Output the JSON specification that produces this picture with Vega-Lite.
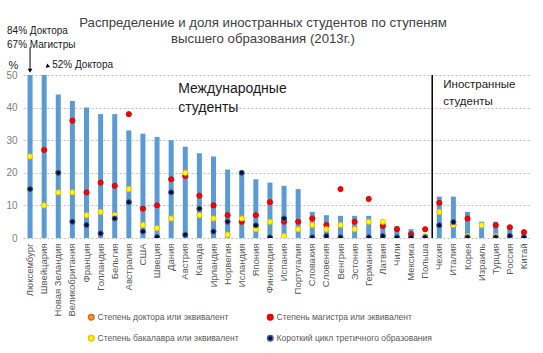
{
  "$schema": "https://vega.github.io/schema/vega-lite/v6.json",
  "width": 508,
  "height": 163,
  "autosize": {"type": "none"},
  "padding": {"left": 23, "top": 75, "right": 12, "bottom": 115},
  "background": "white",
  "config": {"view": {"stroke": null}, "font": "Liberation Sans", "axisY": {"tickCount": 10}},
  "title": {
    "text": ["Распределение и доля иностранных студентов по ступеням", "высшего образования (2013г.)"],
    "fontSize": 13.2,
    "fontWeight": "normal",
    "font": "Liberation Sans",
    "color": "#404040",
    "anchor": "middle",
    "frame": "group",
    "lineHeight": 16,
    "offset": -20,
    "dx": -14
  },
  "data": {
    "values": [
      {"c": "Люксембург", "d": 84, "m": 67, "b": 25, "s": 15},
      {"c": "Швейцария", "d": 52, "m": 27, "b": 10, "s": null},
      {"c": "Новая Зеландия", "d": 44, "m": null, "b": 14, "s": 20},
      {"c": "Великобритания", "d": 42, "m": 36, "b": 14, "s": 5},
      {"c": "Франция", "d": 40, "m": 14, "b": 7, "s": 4},
      {"c": "Голландия", "d": 38, "m": 17, "b": 8, "s": 1.4},
      {"c": "Бельгия", "d": 38, "m": 16, "b": 7, "s": 6},
      {"c": "Австралия", "d": 33, "m": 38, "b": 15, "s": 11},
      {"c": "США", "d": 32, "m": 9, "b": 4, "s": 2},
      {"c": "Швеция", "d": 31, "m": 10, "b": 3, "s": 0.3},
      {"c": "Дания", "d": 30, "m": 18, "b": 6, "s": 14},
      {"c": "Австрия", "d": 28, "m": 19, "b": 20, "s": 1},
      {"c": "Канада", "d": 26, "m": 13, "b": 7, "s": 9},
      {"c": "Ирландия", "d": 25, "m": 10, "b": 6, "s": 2},
      {"c": "Норвегия", "d": 21, "m": 7, "b": 1, "s": 5},
      {"c": "Исландия", "d": 20, "m": 5, "b": 6, "s": 20},
      {"c": "Япония", "d": 18, "m": 7, "b": 2.7, "s": 3.9},
      {"c": "Финляндия", "d": 17, "m": 11, "b": 5, "s": 0.2},
      {"c": "Испания", "d": 16, "m": 5, "b": 0.6, "s": 6},
      {"c": "Португалия", "d": 15, "m": 5, "b": 2.7, "s": null},
      {"c": "Словакия", "d": 8, "m": 6, "b": 4, "s": 0.2},
      {"c": "Словения", "d": 7, "m": 4, "b": 2.7, "s": 0.6},
      {"c": "Венгрия", "d": 6.8, "m": 15, "b": 4, "s": 0.2},
      {"c": "Эстония", "d": 6.8, "m": 5, "b": 2.7, "s": null},
      {"c": "Германия", "d": 6.8, "m": 12, "b": 5, "s": 0.2},
      {"c": "Латвия", "d": 5, "m": 3.7, "b": 5, "s": 0.6},
      {"c": "Чили", "d": 3.7, "m": 2.7, "b": null, "s": 0.2},
      {"c": "Мексика", "d": 2.7, "m": 1.2, "b": null, "s": 0.2},
      {"c": "Польша", "d": null, "m": 2.7, "b": 0.6, "s": 0.2},
      {"c": "Чехия", "d": 12.7, "m": 10.8, "b": 8, "s": 3.9},
      {"c": "Италия", "d": 12.7, "m": 4, "b": 4, "s": 4.9},
      {"c": "Корея", "d": 8, "m": 6, "b": 0.6, "s": 0.2},
      {"c": "Израиль", "d": 5, "m": null, "b": 3.9, "s": null},
      {"c": "Турция", "d": 5, "m": 3.9, "b": 0.6, "s": 0.2},
      {"c": "Россия", "d": 3.7, "m": 3.3, "b": null, "s": 0.6},
      {"c": "Китай", "d": 1.4, "m": 1.8, "b": null, "s": 0.2}
    ]
  },
  "transform": [
    {"fold": ["d", "m", "b", "s"], "as": ["k", "v"]},
    {"filter": "isValid(datum.v)"}
  ],
  "encoding": {
    "x": {
      "field": "c",
      "type": "nominal",
      "sort": null,
      "scale": {
        "domain": ["Люксембург", "Швейцария", "Новая Зеландия", "Великобритания", "Франция", "Голландия", "Бельгия", "Австралия", "США", "Швеция", "Дания", "Австрия", "Канада", "Ирландия", "Норвегия", "Исландия", "Япония", "Финляндия", "Испания", "Португалия", "Словакия", "Словения", "Венгрия", "Эстония", "Германия", "Латвия", "Чили", "Мексика", "Польша", "Чехия", "Италия", "Корея", "Израиль", "Турция", "Россия", "Китай"],
        "paddingInner": 0,
        "paddingOuter": 0
      },
      "axis": {
        "title": null,
        "labelAngle": -90,
        "labelAlign": "right",
        "labelBaseline": "middle",
        "labelFontSize": 9.5,
        "labelColor": "#595959",
        "ticks": false,
        "domain": false,
        "grid": false,
        "labelPadding": 5
      }
    },
    "y": {
      "field": "v",
      "type": "quantitative",
      "title": "%",
      "scale": {"domain": [0, 50], "nice": false},
      "axis": {
        "values": [0, 5, 10, 15, 20, 25, 30, 35, 40, 45, 50],
        "tickCount": 10,
        "labelOverlap": false,
        "titleAngle": 0,
        "titleAlign": "left",
        "titleBaseline": "alphabetic",
        "titleX": -15,
        "titleY": -7,
        "titleFontSize": 11,
        "titleFontWeight": "normal",
        "titleColor": "#262626",
        "labelColor": "#7f7f7f",
        "labelFontSize": 10,
        "ticks": false,
        "domain": false,
        "labelPadding": 6,
        "gridDash": [2, 2],
        "gridColor": "#bfbfbf"
      }
    }
  },
  "layer": [
    {
      "transform": [{"filter": "datum.k == 'd'"}],
      "mark": {"type": "bar", "width": 5, "color": "#5b9bd5", "clip": true}
    },
    {
      "transform": [{"filter": "datum.k != 'd'"}],
      "mark": {"type": "point", "filled": true, "clip": true, "size": 26, "strokeWidth": 1, "opacity": 1},
      "encoding": {
        "fill": {
          "field": "k",
          "type": "nominal",
          "scale": {"domain": ["d", "m", "b", "s"], "range": ["#f79646", "#ff0000", "#ffff00", "#0d0d2b"]},
          "legend": {
            "orient": "none",
            "legendX": 64,
            "legendY": 238,
            "direction": "horizontal",
            "columns": 2,
            "columnPadding": 25,
            "rowPadding": 9,
            "title": null,
            "labelLimit": 300,
            "labelExpr": "datum.label == 'd' ? 'Степень доктора или эквивалент' : datum.label == 'm' ? 'Степень магистра или эквивалент' : datum.label == 'b' ? 'Степень бакалавра или эквивалент' : 'Короткий цикл третичного образования'",
            "labelFontSize": 8.5,
            "labelColor": "#595959",
            "symbolSize": 30,
            "symbolType": "circle",
            "labelOffset": 2
          }
        },
        "stroke": {
          "field": "k",
          "type": "nominal",
          "scale": {"domain": ["d", "m", "b", "s"], "range": ["#e46c0a", "#e00000", "#ffc000", "#3a5fa8"]},
          "legend": {
            "orient": "none",
            "legendX": 64,
            "legendY": 238,
            "direction": "horizontal",
            "columns": 2,
            "columnPadding": 25,
            "rowPadding": 9,
            "title": null,
            "labelLimit": 300,
            "labelExpr": "datum.label == 'd' ? 'Степень доктора или эквивалент' : datum.label == 'm' ? 'Степень магистра или эквивалент' : datum.label == 'b' ? 'Степень бакалавра или эквивалент' : 'Короткий цикл третичного образования'",
            "labelFontSize": 8.5,
            "labelColor": "#595959",
            "symbolSize": 30,
            "symbolType": "circle",
            "labelOffset": 2
          }
        }
      }
    },
    {
      "transform": [{"filter": "datum.c == 'Люксембург' && datum.k == 'd'"}],
      "mark": {"type": "rule", "color": "#000000", "strokeWidth": 1.5},
      "encoding": {
        "x": {"datum": "Чехия", "type": "nominal", "bandPosition": 0},
        "y": {"datum": 0, "type": "quantitative"},
        "y2": {"datum": 50}
      }
    },
    {
      "transform": [{"filter": "datum.c == 'Люксембург' && datum.k == 'd'"}],
      "mark": {"type": "text", "align": "left", "baseline": "alphabetic", "fontSize": 14, "fontWeight": "normal", "lineHeight": 19, "color": "#1a1a1a", "dx": 7},
      "encoding": {
        "x": {"datum": "Дания", "type": "nominal"},
        "y": {"datum": 44.5, "type": "quantitative"},
        "text": {"value": ["Международные", "студенты"]}
      }
    },
    {
      "transform": [{"filter": "datum.c == 'Люксембург' && datum.k == 'd'"}],
      "mark": {"type": "text", "align": "left", "baseline": "alphabetic", "fontSize": 11.5, "fontWeight": "normal", "lineHeight": 17, "color": "#1a1a1a", "dx": 4},
      "encoding": {
        "x": {"datum": "Чехия", "type": "nominal"},
        "y": {"datum": 46, "type": "quantitative"},
        "text": {"value": ["Иностранные", "студенты"]}
      }
    },
    {
      "transform": [{"filter": "datum.c == 'Люксембург' && datum.k == 'd'"}],
      "mark": {"type": "text", "align": "left", "baseline": "alphabetic", "fontSize": 10, "fontWeight": "normal", "lineHeight": 14, "color": "#1a1a1a", "dx": -23},
      "encoding": {
        "x": {"datum": "Люксембург", "type": "nominal"},
        "y": {"datum": 62.6, "type": "quantitative"},
        "text": {"value": ["84% Доктора", "67% Магистры"]}
      }
    },
    {
      "transform": [{"filter": "datum.c == 'Люксембург' && datum.k == 'd'"}],
      "mark": {"type": "text", "align": "left", "baseline": "alphabetic", "fontSize": 10, "fontWeight": "normal", "color": "#1a1a1a", "dx": 8},
      "encoding": {
        "x": {"datum": "Швейцария", "type": "nominal"},
        "y": {"datum": 52.1, "type": "quantitative"},
        "text": {"value": "52% Доктора"}
      }
    },
    {
      "transform": [{"filter": "datum.c == 'Люксембург' && datum.k == 'd'"}],
      "mark": {"type": "rule", "color": "#000000", "strokeWidth": 1},
      "encoding": {
        "x": {"datum": "Люксембург", "type": "nominal"},
        "y": {"datum": 58.5, "type": "quantitative"},
        "y2": {"datum": 51.5}
      }
    },
    {
      "transform": [{"filter": "datum.c == 'Люксембург' && datum.k == 'd'"}],
      "mark": {"type": "point", "shape": "triangle-down", "filled": true, "color": "#000000", "size": 22, "opacity": 1},
      "encoding": {
        "x": {"datum": "Люксембург", "type": "nominal"},
        "y": {"datum": 51.3, "type": "quantitative"}
      }
    },
    {
      "transform": [{"filter": "datum.c == 'Люксембург' && datum.k == 'd'"}],
      "mark": {"type": "point", "shape": "triangle-left", "filled": true, "color": "#000000", "size": 20, "opacity": 1, "xOffset": 3, "angle": -40},
      "encoding": {
        "x": {"datum": "Швейцария", "type": "nominal"},
        "y": {"datum": 52.6, "type": "quantitative"}
      }
    }
  ]
}
